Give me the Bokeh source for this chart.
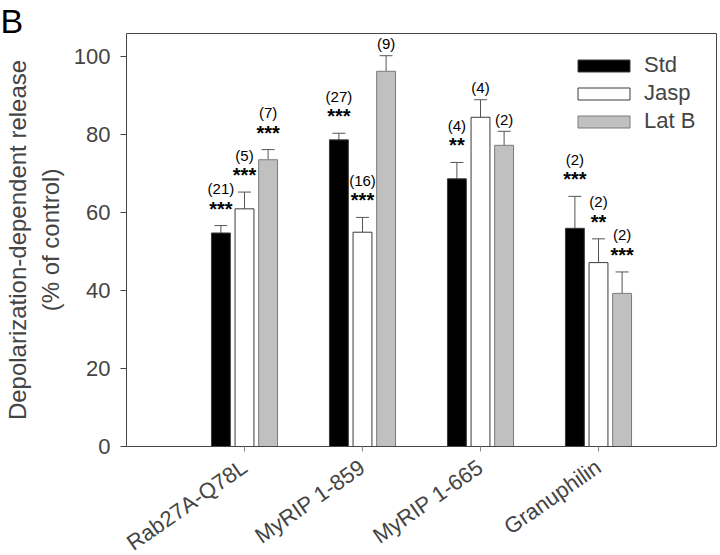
import numpy as np
from bokeh.plotting import figure
from bokeh.models import (ColumnDataSource, FixedTicker, Whisker, TeeHead, Legend,
                          LegendItem, Label, Range1d, LinearAxis)
from bokeh.core.properties import value
from bokeh.embed import file_html
from bokeh.resources import INLINE

# ---- data ----
categories = ["Rab27A-Q78L", "MyRIP 1-859", "MyRIP 1-665", "Granuphilin"]
series = ["Std", "Jasp", "Lat B"]

std_mean = [54.8, 78.7, 68.7, 56.0]
std_err = [1.9, 1.7, 4.2, 8.2]
std_n = ["(21)", "(27)", "(4)", "(2)"]
std_sig = ["***", "***", "**", "***"]

jasp_mean = [61.0, 55.0, 84.5, 47.2]
jasp_err = [4.3, 3.8, 4.5, 6.1]
jasp_n = ["(5)", "(16)", "(4)", "(2)"]
jasp_sig = ["***", "***", "", "**"]

latb_mean = [73.6, 96.3, 77.3, 39.3]
latb_err = [2.6, 4.0, 3.6, 5.5]
latb_n = ["(7)", "(9)", "(2)", "(2)"]
latb_sig = ["***", "", "", "***"]

y_ticks = [0, 20, 40, 60, 80, 100]
Y_TOP = 106

# ---- layout (pixels) ----
W, H = 720, 555
AX_L, AX_R, AX_T, AX_B = 126, 716, 33, 446   # page position of the axes box
X_MAX = len(categories) + 1
xpu = (AX_R - AX_L) / X_MAX
ypu = (AX_B - AX_T) / Y_TOP

# ---- styles ----
FONT = "Liberation Sans"
AXC = "#444444"
fills = ["#000000", "#ffffff", "#c0c0c0"]
lines = ["#3a3a3a", "#3a3a3a", "#7a7a7a"]
offsets = [-0.2, 0.0, 0.2]
BAR_W = 0.16

p = figure(width=W, height=H,
           x_range=Range1d(-AX_L / xpu, X_MAX + (W - AX_R) / xpu),
           y_range=Range1d(-(H - AX_B) / ypu, Y_TOP + AX_T / ypu),
           output_backend="svg", toolbar_location=None,
           min_border=0, min_border_left=0, min_border_right=0,
           min_border_top=0, min_border_bottom=0)
p.xgrid.visible = False
p.ygrid.visible = False
p.outline_line_color = None
p.background_fill_color = "white"
p.border_fill_color = "white"

group_pos = np.arange(1, len(categories) + 1)

all_data = [
    (std_mean, std_err, std_n, std_sig),
    (jasp_mean, jasp_err, jasp_n, jasp_sig),
    (latb_mean, latb_err, latb_n, latb_sig),
]

renderers = []
for i, (mean, err, ns, sig) in enumerate(all_data):
    mean = np.array(mean)
    err = np.array(err)
    has_sig = np.array([len(s) > 0 for s in sig])
    xs = group_pos + offsets[i]
    src = ColumnDataSource(dict(
        x=xs,
        top=mean,
        upper=mean + err,
        n=ns,
        n_off=np.where(has_sig, -37.0, -12.0),
    ))
    r = p.vbar(x="x", top="top", bottom=0, width=BAR_W, source=src,
               fill_color=fills[i], line_color=lines[i], line_width=1)
    renderers.append(r)
    w = Whisker(base="x", upper="upper", lower="top", source=src,
                line_color="#555555", line_width=1, lower_head=None,
                upper_head=TeeHead(size=13, line_color="#555555", line_width=1))
    p.add_layout(w)
    p.text(x="x", y="upper", text="n", source=src, y_offset="n_off",
           text_align="center", text_baseline="middle",
           text_font=value(FONT), text_font_size="15px", text_color="black")
    sig_src = ColumnDataSource(dict(
        x=xs[has_sig], upper=(mean + err)[has_sig],
        sig=[s for s in sig if s]))
    p.text(x="x", y="upper", text="sig", source=sig_src, y_offset=-17,
           text_align="center", text_baseline="alphabetic",
           text_font=value(FONT), text_font_style="bold",
           text_font_size="20px", text_color="black")

# ---- axes ----
yax = p.yaxis[0]
yax.fixed_location = 0
yax.bounds = (0, Y_TOP)
yax.ticker = FixedTicker(ticks=y_ticks)
yax.axis_label = "Depolarization-dependent release\n(% of control)"
yax.axis_label_text_font = FONT
yax.axis_label_text_font_size = "24px"
yax.axis_label_text_font_style = "normal"
yax.axis_label_standoff = 7
yax.major_label_text_font = FONT
yax.major_label_text_font_size = "22px"
yax.major_label_standoff = 10
yax.major_tick_out = 6
yax.major_tick_in = 0
yax.minor_tick_line_color = None
yax.axis_line_color = AXC
yax.major_tick_line_color = AXC

xax = p.xaxis[0]
xax.fixed_location = 0
xax.bounds = (0, X_MAX)
xax.ticker = FixedTicker(ticks=[int(v) for v in group_pos])
xax.major_label_overrides = {int(v): c for v, c in zip(group_pos, categories)}
xax.major_label_orientation = np.deg2rad(35)
xax.major_label_text_font = FONT
xax.major_label_text_font_size = "22px"
xax.major_label_standoff = 13
xax.major_tick_out = 5
xax.major_tick_in = 0
xax.minor_tick_line_color = None
xax.axis_line_color = AXC
xax.major_tick_line_color = "#888888"

# frame lines on top and right
top_ax = LinearAxis(fixed_location=Y_TOP, bounds=(0, X_MAX), ticker=FixedTicker(ticks=[]),
                    axis_line_color=AXC, major_tick_line_color=None,
                    minor_tick_line_color=None)
p.add_layout(top_ax, "above")
right_ax = LinearAxis(fixed_location=X_MAX, bounds=(0, Y_TOP), ticker=FixedTicker(ticks=[]),
                      axis_line_color=AXC, major_tick_line_color=None,
                      minor_tick_line_color=None)
p.add_layout(right_ax, "right")

# ---- legend ----
legend = Legend(items=[LegendItem(label=s, renderers=[r]) for s, r in zip(series, renderers)],
                location=(571, 421), glyph_width=65, glyph_height=15,
                label_text_font=FONT, label_text_font_size="22px",
                label_standoff=8, spacing=2, padding=0, margin=0,
                border_line_color=None, background_fill_alpha=0)
p.add_layout(legend)

# ---- panel letter ----
p.add_layout(Label(x=0, y=H - 20, x_units="screen", y_units="screen", text="B",
                   text_font=FONT, text_font_size="34px", text_baseline="alphabetic",
                   text_align="left", text_color="black"))

open("out.html", "w").write(file_html(p, INLINE))
